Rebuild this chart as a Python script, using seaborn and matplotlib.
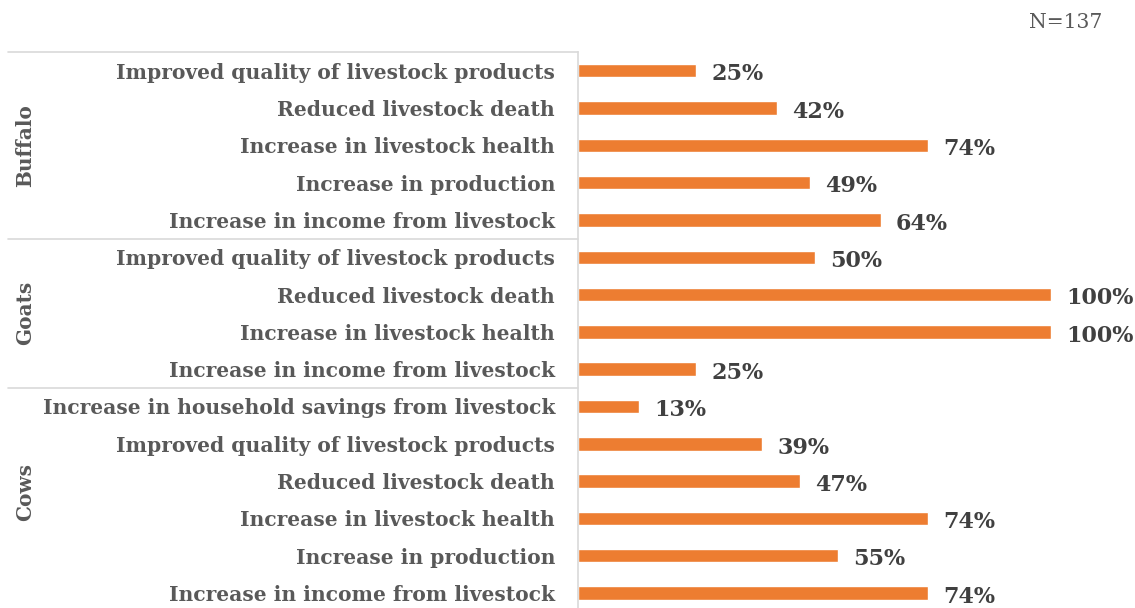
import matplotlib
matplotlib.use("Agg")
import matplotlib.pyplot as plt
import matplotlib.transforms as mtransforms
import seaborn as sns
import pandas as pd

# Benefits reported per livestock type (share of respondents, %)
groups = ["Buffalo", "Goats", "Cows"]
buffalo_items = [
    "Improved quality of livestock products",
    "Reduced livestock death",
    "Increase in livestock health",
    "Increase in production",
    "Increase in income from livestock",
]
buffalo_values = [25, 42, 74, 49, 64]
goats_items = [
    "Improved quality of livestock products",
    "Reduced livestock death",
    "Increase in livestock health",
    "Increase in income from livestock",
]
goats_values = [50, 100, 100, 25]
cows_items = [
    "Increase in household savings from livestock",
    "Improved quality of livestock products",
    "Reduced livestock death",
    "Increase in livestock health",
    "Increase in production",
    "Increase in income from livestock",
]
cows_values = [13, 39, 47, 74, 55, 74]
sample_note = "N=137"

rows = []
for g, items, vals in [("Buffalo", buffalo_items, buffalo_values),
                       ("Goats", goats_items, goats_values),
                       ("Cows", cows_items, cows_values)]:
    for it, v in zip(items, vals):
        rows.append({"group": g, "item": it, "value": v})
df = pd.DataFrame(rows)
df["pos"] = range(len(df))

sns.set_style("white")
plt.rcParams["font.family"] = ["DejaVu Serif"]

W, H = 1135, 608
fig = plt.figure(figsize=(W / 100, H / 100), dpi=100)
ax = fig.add_axes([578 / W, 0, (1051 - 578) / W, 1 - 52 / H])

bar_color = "#ED7D31"
sns.barplot(data=df, x="value", y="pos", orient="h", order=list(df["pos"]),
            color=bar_color, width=0.36, ax=ax, saturation=1)

n = len(df)
ax.set_xlim(0, 100)
ax.set_ylim(14.4, -0.5)
ax.set_xlabel("")
ax.set_ylabel("")
ax.set_xticks([])
ax.set_yticks(range(n))
ax.set_yticklabels(df["item"], fontsize=14.6, fontweight="bold", color="#595959")
ax.tick_params(axis="y", length=0, pad=16.5)

for side in ["top", "right", "bottom"]:
    ax.spines[side].set_visible(False)
ax.spines["left"].set_color("#d9d9d9")
ax.spines["left"].set_linewidth(1.2)

# value labels
for p, v in zip(df["pos"], df["value"]):
    ax.text(v + 3.2, p + 0.1, f"{v}%", va="center", ha="left",
            fontsize=16, fontweight="bold", color="#404040", clip_on=False)

# group separators and labels on the left
trans = mtransforms.blended_transform_factory(ax.transAxes, ax.transData)
x_left = (8 - 578) / (1051 - 578)
for yb in [-0.5, 4.5, 8.5]:
    ax.plot([x_left, 0], [yb, yb], color="#d9d9d9", lw=1.2,
            transform=trans, clip_on=False)

x_grp = (25 - 578) / (1051 - 578)
start = 0
for g in groups:
    cnt = (df["group"] == g).sum()
    center = start + (cnt - 1) / 2
    if g == "Cows":
        center = start + (cnt - 1) / 2 - 0.2
    ax.text(x_grp, center, g, rotation=90, ha="center", va="center",
            fontsize=14.4, fontweight="bold", color="#595959",
            transform=trans, clip_on=False)
    start += cnt

fig.text(1102 / W, 1 - 22 / H, sample_note, ha="right", va="center",
         fontsize=14.6, color="#595959")

fig.savefig("out.png", dpi=100)
